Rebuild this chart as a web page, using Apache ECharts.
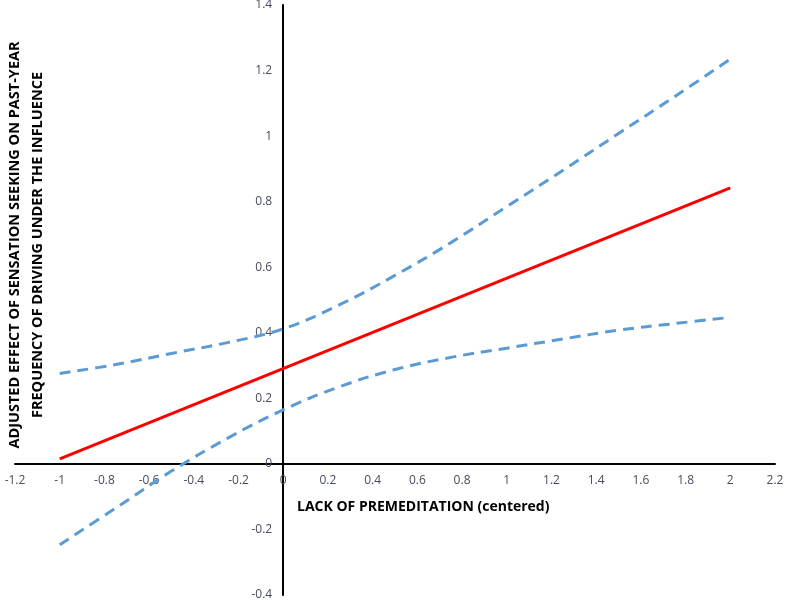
<!DOCTYPE html>
<html>
<head>
<meta charset="utf-8">
<script src="https://cdn.jsdelivr.net/npm/echarts@6/dist/echarts.min.js"></script>
<style>
  html, body { margin: 0; padding: 0; background: #fff; }
  #main { width: 785px; height: 600px; }
</style>
</head>
<body>
<div id="main"></div>
<script>
// x values (lack of premeditation, centered)
const xVals = [-1, -0.75, -0.5, -0.25, 0, 0.25, 0.5, 0.75, 1, 1.25, 1.5, 1.75, 2];
// upper / lower confidence band
const upperVals = [0.276, 0.303, 0.337, 0.37, 0.412, 0.485, 0.575, 0.675, 0.785, 0.895, 1.008, 1.12, 1.235];
const lowerVals = [-0.247, -0.135, -0.022, 0.078, 0.165, 0.235, 0.288, 0.325, 0.353, 0.381, 0.408, 0.428, 0.447];
// adjusted effect (straight line)
const effectX = [-1, 2];
const effectVals = [0.015, 0.842];

const xMin = -1.2, xMax = 2.2, yMin = -0.4, yMax = 1.4;

const yTitle = 'ADJUSTED EFFECT OF SENSATION SEEKING ON PAST-YEAR\nFREQUENCY OF DRIVING UNDER THE INFLUENCE';
const xTitle = 'LACK OF PREMEDITATION (centered)';

function pairs(xs, ys) {
    return xs.map((x, i) => [x, ys[i]]);
}

const W = 785, H = 600;
const grid = { left: 15, right: 10, top: 5, bottom: 5 };
const plotW = W - grid.left - grid.right;
const plotH = H - grid.top - grid.bottom;
// move the axes (line + labels) to cross at zero
const xAxisOffset = -plotH * (0 - yMin) / (yMax - yMin);
const yAxisOffset = -plotW * (0 - xMin) / (xMax - xMin);

let chart = echarts.init(document.getElementById('main'));
const labelStyle = {
    color: '#464c5c',
    fontSize: 12,
    fontFamily: 'Open Sans'
};
chart.setOption({
    animation: false,
    grid: Object.assign({ containLabel: false, outerBoundsMode: 'none' }, grid),
    xAxis: {
        type: 'value',
        min: xMin,
        max: xMax,
        interval: 0.2,
        position: 'bottom',
        offset: xAxisOffset,
        axisLine: { onZero: false, lineStyle: { color: '#000', width: 2 } },
        axisTick: { show: false },
        splitLine: { show: false },
        axisLabel: Object.assign({ margin: 11, showMinLabel: true, showMaxLabel: true }, labelStyle)
    },
    yAxis: {
        type: 'value',
        min: yMin,
        max: yMax,
        interval: 0.2,
        position: 'left',
        offset: yAxisOffset,
        axisLine: { onZero: false, lineStyle: { color: '#000', width: 2 } },
        axisTick: { show: false },
        splitLine: { show: false },
        axisLabel: Object.assign({ margin: 11, showMinLabel: true, showMaxLabel: true }, labelStyle)
    },
    graphic: [
        {
            type: 'text',
            x: 26,
            y: 245,
            rotation: Math.PI / 2,
            style: {
                text: yTitle,
                fill: '#000',
                font: 'bold 14.5px "Open Sans"',
                textAlign: 'center',
                textVerticalAlign: 'middle',
                lineHeight: 23
            }
        },
        {
            type: 'text',
            x: 297,
            y: 507,
            style: {
                text: xTitle,
                fill: '#000',
                font: 'bold 14px "Open Sans"',
                textAlign: 'left',
                textVerticalAlign: 'middle'
            }
        }
    ],
    series: [
        {
            type: 'line',
            data: pairs(xVals, upperVals),
            smooth: 0.4,
            symbol: 'none',
            lineStyle: { color: '#5B9BD5', width: 3, type: [11, 7] }
        },
        {
            type: 'line',
            data: pairs(xVals, lowerVals),
            smooth: 0.4,
            symbol: 'none',
            lineStyle: { color: '#5B9BD5', width: 3, type: [11, 7] }
        },
        {
            type: 'line',
            data: pairs(effectX, effectVals),
            symbol: 'none',
            lineStyle: { color: '#FF0000', width: 3 }
        }
    ]
});
</script>
</body>
</html>
